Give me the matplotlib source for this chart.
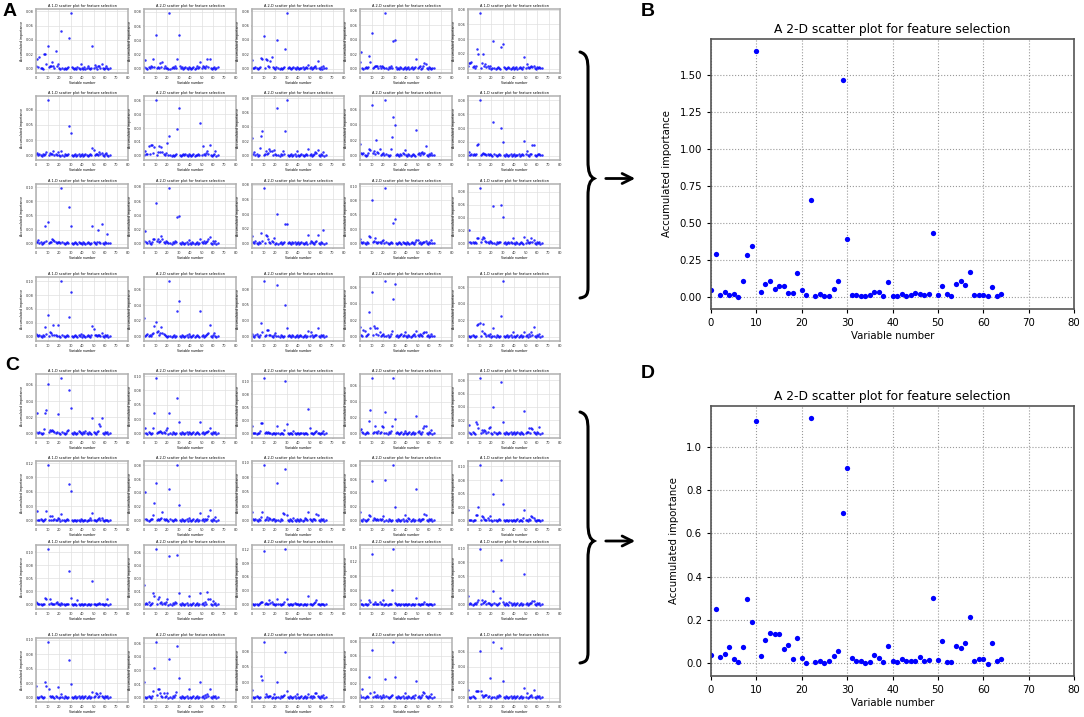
import matplotlib
matplotlib.use("Agg")
import matplotlib.pyplot as plt
import numpy as np
from matplotlib.path import Path
from matplotlib.patches import PathPatch
from matplotlib.ticker import FormatStrFormatter, MaxNLocator

# ---- big panels (B and D): accumulated importance per variable ----
b_values = [0.045, 0.29, 0.015, 0.035, 0.015, 0.02, 0.0, 0.105, 0.28, 0.34,
            1.66, 0.03, 0.088, 0.105, 0.055, 0.073, 0.073, 0.022, 0.026, 0.16,
            0.047, 0.009, 0.657, 0.007, 0.018, 0.002, 0.007, 0.052, 0.108, 1.466,
            0.388, 0.013, 0.013, 0.007, 0.004, 0.013, 0.031, 0.031, 0.004, 0.099,
            0.007, 0.003, 0.016, 0.003, 0.009, 0.022, 0.02, 0.011, 0.02, 0.43,
            0.011, 0.072, 0.018, 0.007, 0.083, 0.105, 0.081, 0.165, 0.009, 0.013,
            0.013, 0.007, 0.068, 0.004, 0.016]
d_values = [0.036, 0.251, 0.028, 0.043, 0.073, 0.02, 0.003, 0.076, 0.298, 0.192,
            1.121, 0.031, 0.105, 0.141, 0.135, 0.133, 0.064, 0.085, 0.019, 0.115,
            0.023, 0.0, 1.133, 0.006, 0.009, 0.0, 0.009, 0.034, 0.057, 0.693,
            0.905, 0.025, 0.011, 0.009, 0.001, 0.006, 0.039, 0.022, 0.005, 0.079,
            0.011, 0.003, 0.017, 0.011, 0.011, 0.009, 0.029, 0.011, 0.014, 0.299,
            0.015, 0.104, 0.006, 0.006, 0.081, 0.07, 0.095, 0.211, 0.011, 0.017,
            0.017, -0.003, 0.091, 0.008, 0.019]

# ---- small panels (A and C), values in thousandths, row by row ----
A00 = [3,13,2,16,1,1,0,20,21,6,31,2,4,3,9,3,1,25,3,7,1,0,52,1,0,1,0,1,2,42,77,2,1,0,1,0,2,1,0,7,1,0,2,0,1,3,1,0,1,32,1,5,2,0,3,4,1,6,1,0,1,4,1,0,1]
A01 = [2,12,1,0,2,1,3,2,13,2,47,1,2,1,8,2,9,1,3,1,1,0,78,0,1,2,1,3,1,13,48,3,1,2,0,1,2,1,0,2,1,0,1,2,0,1,3,1,2,9,1,3,2,1,4,13,2,13,1,0,1,2,0,1,2]
A02 = [12,1,1,2,1,0,1,2,15,14,46,1,13,12,3,2,10,16,2,1,0,2,40,1,0,1,0,1,2,27,77,1,2,1,0,1,2,1,0,2,1,0,1,1,2,0,1,2,1,5,1,2,0,1,2,3,1,11,1,0,2,0,4,1,1]
A03 = [9,23,1,0,1,2,1,2,17,9,49,1,2,3,4,4,1,3,1,4,2,1,76,1,0,2,1,3,1,38,39,2,0,1,0,2,1,0,1,2,0,1,2,0,1,2,0,1,2,13,1,2,3,0,1,4,8,7,1,0,2,1,0,1,1]
A04 = [3,7,7,9,2,3,1,4,27,20,75,1,8,20,4,6,2,3,1,4,0,1,38,1,0,1,2,1,0,30,33,2,1,0,1,2,1,0,1,2,0,1,2,0,1,2,1,0,2,16,1,6,2,1,2,3,2,4,1,0,2,1,2,1,1]
A10 = [2,5,1,3,1,0,2,1,3,6,90,1,5,2,3,8,1,2,1,6,1,0,8,1,0,2,1,1,2,48,37,1,0,1,2,0,1,2,0,1,2,0,1,2,1,0,1,2,1,12,9,1,2,3,1,6,2,4,1,0,2,4,1,0,1]
A11 = [1,5,2,2,10,2,12,11,3,9,60,1,4,10,4,9,4,2,1,3,14,1,21,1,0,1,0,1,2,29,52,1,0,1,2,1,2,1,0,2,1,0,1,2,0,1,1,2,1,35,1,10,2,1,3,5,2,12,1,0,1,2,5,0,1]
A12 = [24,2,5,1,2,0,1,11,28,34,1,2,6,2,3,9,7,6,1,8,2,1,66,1,0,2,1,6,2,34,77,1,0,1,2,0,1,2,0,7,1,0,1,2,1,0,1,2,1,9,1,2,0,1,2,5,3,8,1,0,2,1,5,0,1]
A13 = [15,3,2,4,1,0,1,4,8,7,66,3,6,2,20,5,3,8,1,2,3,1,72,2,1,0,1,9,24,50,40,1,2,1,0,2,1,3,2,7,1,0,2,1,0,1,2,1,0,33,2,4,1,3,5,2,4,12,1,0,2,1,4,1,1]
A14 = [1,5,1,2,1,2,1,2,16,17,80,1,2,4,2,3,1,2,1,3,1,0,48,2,1,0,1,2,1,40,20,1,0,2,1,0,1,2,0,1,2,0,1,1,2,0,1,2,1,21,2,6,1,0,2,3,16,15,1,0,1,3,2,1,1]
A20 = [3,3,6,1,2,0,1,2,31,5,38,1,2,3,8,7,5,2,1,3,2,1,98,2,1,0,1,2,1,65,31,1,0,1,2,1,0,2,1,1,0,2,1,0,1,2,1,0,1,31,2,1,0,3,24,2,1,35,1,0,2,1,17,1,1]
A21 = [4,18,2,1,3,1,0,2,6,7,57,3,6,2,3,11,6,2,1,3,2,1,78,1,0,2,1,3,2,38,39,1,0,2,1,0,1,2,0,5,1,0,2,1,0,1,2,0,1,7,2,1,3,1,2,4,7,9,1,0,3,1,3,0,1]
A22 = [10,2,1,3,1,0,2,1,15,4,75,1,11,10,6,2,1,3,2,8,0,1,40,0,1,2,0,1,2,27,27,1,2,1,0,2,1,2,0,1,2,0,1,2,1,0,1,2,0,12,1,4,2,1,0,2,3,12,1,0,2,1,18,0,1]
A23 = [8,2,1,2,1,0,2,1,14,12,75,2,4,9,2,1,3,2,1,5,6,1,96,2,1,0,1,2,1,35,43,1,0,1,2,1,0,2,1,1,0,2,1,0,1,2,1,0,2,6,6,1,2,0,1,2,3,5,1,0,2,1,6,1,1]
A24 = [2,21,2,1,3,1,2,1,8,8,85,2,7,10,9,4,2,3,1,4,2,1,58,1,0,2,1,3,2,60,41,1,2,0,1,2,1,3,1,8,1,0,2,1,0,1,2,1,0,10,1,6,2,1,3,8,2,5,1,0,2,1,2,0,1]
A30 = [5,3,1,2,1,0,2,1,17,4,40,1,8,7,2,21,3,2,1,21,1,0,100,2,1,0,1,2,1,35,80,1,0,1,2,1,0,2,1,4,0,2,1,0,1,2,1,0,2,19,14,2,3,1,2,3,1,6,1,0,2,1,3,0,1]
A31 = [23,1,2,3,1,2,1,3,4,14,18,6,7,2,5,12,4,3,2,1,0,1,70,1,0,1,2,0,1,32,45,1,0,2,1,0,1,2,0,3,1,0,1,2,0,1,2,1,0,33,1,2,0,1,2,3,4,15,1,0,2,5,1,0,1]
A32 = [4,1,0,2,4,1,0,2,21,7,87,1,2,11,11,3,3,1,0,2,6,1,82,1,0,2,1,0,1,50,13,1,2,1,0,2,1,0,1,2,0,1,2,1,0,1,2,0,1,9,1,7,2,0,1,3,2,14,1,0,2,1,2,0,1]
A33 = [12,2,1,8,7,1,2,3,30,10,54,2,13,10,3,11,2,6,1,2,3,1,67,1,2,0,1,3,7,46,64,1,2,0,1,2,3,1,2,6,1,0,2,1,0,1,2,3,1,7,2,1,3,2,1,4,5,6,1,2,0,1,3,1,1]
A34 = [1,1,0,1,2,1,0,1,14,15,16,1,7,15,4,3,1,2,1,3,0,1,10,1,0,2,1,0,1,25,67,1,0,1,2,0,1,2,0,5,1,0,1,2,0,1,2,0,1,6,1,2,0,3,1,5,2,12,1,0,2,1,3,0,1]

C00 = [2,25,1,2,1,0,1,6,25,29,61,2,4,3,5,3,2,1,2,24,1,0,68,2,1,0,1,3,5,54,31,1,0,2,1,0,1,3,2,1,0,2,1,3,1,0,2,1,0,19,2,1,0,2,3,12,9,19,1,0,2,1,2,0,1]
C01 = [1,10,1,0,2,1,0,1,9,35,96,1,3,2,4,3,1,2,1,6,10,0,35,1,0,2,1,0,1,62,20,1,0,2,1,0,1,2,0,3,1,0,1,2,0,1,2,1,0,20,1,2,0,1,2,3,5,9,1,0,2,1,2,0,1]
C02 = [14,1,2,1,0,2,1,4,20,21,105,1,3,2,3,1,2,0,1,2,0,1,14,1,0,1,2,0,6,100,18,1,0,2,1,0,4,1,0,2,1,0,1,2,1,0,1,2,0,47,10,1,2,0,1,3,4,2,1,0,2,1,4,0,1]
C03 = [4,6,2,1,0,1,2,1,16,30,69,1,2,9,2,1,3,1,2,9,8,1,27,1,0,2,1,3,10,69,18,1,2,1,0,1,2,0,1,3,1,0,1,2,0,1,2,0,1,22,2,3,1,0,2,7,9,9,1,0,2,1,4,0,1]
C04 = [2,13,1,0,2,1,0,18,15,9,83,1,6,2,6,4,1,3,9,10,1,0,40,2,1,0,1,2,1,77,17,1,0,2,1,0,1,2,0,1,2,0,1,2,1,0,2,1,0,34,1,3,2,8,1,8,7,3,1,0,2,1,10,0,1]
C10 = [2,19,2,1,3,1,0,2,3,20,115,1,9,2,9,1,3,2,1,6,4,0,13,2,1,0,1,3,2,76,61,1,0,2,1,0,1,2,0,3,1,0,1,2,0,1,2,5,1,15,2,1,0,2,3,6,2,6,1,0,2,1,2,0,1]
C11 = [3,42,2,1,0,1,2,3,8,26,54,1,2,1,3,4,12,2,1,3,1,0,46,2,1,0,1,2,1,80,23,1,0,2,1,0,1,2,0,4,1,0,1,2,0,1,2,0,1,11,1,3,0,2,1,2,6,16,1,0,2,1,5,0,1]
C12 = [14,2,1,3,1,0,2,1,6,14,95,1,2,7,1,5,2,1,3,2,0,1,65,1,0,2,1,13,11,88,10,1,0,2,1,0,4,1,0,2,1,0,2,1,0,1,4,2,1,15,2,1,0,2,3,1,11,10,1,0,2,1,2,0,1]
C13 = [13,1,0,2,1,0,1,2,8,6,58,1,4,2,1,3,1,2,1,3,6,0,59,1,0,2,1,0,1,80,20,1,0,2,1,0,1,2,0,8,1,0,4,2,0,1,2,0,1,46,1,2,0,1,2,3,9,8,1,0,2,1,2,0,1]
C14 = [19,1,2,1,0,1,2,10,10,25,102,1,9,6,3,2,1,4,2,8,1,0,50,1,2,0,1,3,2,75,31,1,0,2,1,0,1,2,0,1,2,0,1,3,0,1,2,0,4,19,1,2,0,3,2,9,6,4,1,0,2,1,2,0,1]
C20 = [4,3,1,2,1,0,1,2,12,11,105,1,11,3,1,2,1,3,4,2,1,0,3,2,1,0,1,2,1,63,12,1,0,2,1,0,8,2,0,1,2,0,1,2,0,1,2,0,1,45,1,2,0,1,2,3,1,2,1,0,2,1,10,0,1]
C21 = [23,1,2,1,3,0,1,2,13,10,64,1,6,9,2,3,1,2,1,3,6,0,56,1,0,2,1,3,2,57,13,1,0,2,1,0,1,2,0,10,1,0,1,2,0,1,2,0,1,13,1,2,0,3,1,15,6,6,1,0,4,1,2,0,1]
C22 = [2,1,0,2,1,0,1,3,6,5,116,1,4,2,1,10,3,6,1,2,0,1,13,2,1,0,1,2,5,120,13,1,0,2,1,0,1,3,1,2,1,0,1,2,0,1,2,0,1,18,1,2,0,1,3,6,9,2,1,0,2,1,1,0,1]
C23 = [12,2,1,0,2,1,0,3,12,6,142,1,2,7,1,3,2,6,1,2,12,0,3,1,0,2,1,3,40,155,5,1,0,2,1,0,1,2,0,1,2,0,1,3,0,1,2,0,1,18,1,2,0,1,2,3,7,2,1,0,2,1,2,0,1]
C24 = [15,1,2,1,0,1,2,1,5,8,98,1,8,2,4,7,1,3,2,1,0,1,24,2,1,0,1,2,12,79,4,1,0,2,1,0,4,2,0,1,2,0,1,2,0,1,2,0,1,55,1,2,0,1,2,3,6,6,1,0,2,1,2,0,1]
C30 = [20,1,0,1,2,1,0,1,27,20,95,14,3,1,2,1,0,2,1,19,0,1,6,1,0,2,1,0,1,65,23,1,0,1,2,0,1,2,0,1,2,0,1,2,0,1,2,0,1,10,1,2,8,7,1,2,8,2,1,0,2,1,2,0,1]
C31 = [17,1,0,1,2,1,0,2,7,33,61,3,9,10,5,2,1,5,1,2,5,0,43,1,0,2,1,3,6,57,22,1,0,2,1,0,1,2,0,10,1,0,1,2,0,1,2,0,1,17,1,2,0,3,1,4,2,10,1,0,2,1,2,0,1]
C32 = [13,1,0,1,2,1,0,1,36,28,90,1,6,2,1,3,2,0,1,6,0,1,26,1,0,2,1,3,4,75,10,1,0,2,1,0,1,2,0,6,1,0,1,2,0,1,2,0,1,6,1,2,0,3,1,8,7,2,1,0,2,1,5,0,1]
C33 = [4,1,13,1,0,1,2,1,30,6,68,1,8,2,1,3,1,2,0,1,3,1,27,2,1,0,1,2,4,79,30,1,0,2,1,0,1,2,0,6,1,0,2,1,0,1,2,0,3,24,1,2,0,1,3,8,6,2,1,0,2,1,5,0,1]
C34 = [10,1,0,1,2,1,0,8,8,9,61,8,3,1,2,3,4,1,2,25,0,1,72,1,0,2,1,3,2,65,21,1,0,2,1,0,1,2,0,1,2,0,1,2,0,1,2,0,1,13,1,6,0,1,2,3,1,10,1,0,2,1,2,0,1]

panel_a = [[A00, A01, A02, A03, A04], [A10, A11, A12, A13, A14],
           [A20, A21, A22, A23, A24], [A30, A31, A32, A33, A34]]
panel_c = [[C00, C01, C02, C03, C04], [C10, C11, C12, C13, C14],
           [C20, C21, C22, C23, C24], [C30, C31, C32, C33, C34]]
small_titles = ['A 1-D scatter plot for feature selection',
                'A 2-D scatter plot for feature selection',
                'A 2-D scatter plot for feature selection',
                'A 2-D scatter plot for feature selection',
                'A 1-D scatter plot for feature selection']
big_title = 'A 2-D scatter plot for feature selection'

W, H = 1084, 717
fig = plt.figure(figsize=(W / 100, H / 100), dpi=100)


def px_axes(x0, y0, x1, y1):
    # axes from pixel box (top-left origin)
    return fig.add_axes([x0 / W, 1 - y1 / H, (x1 - x0) / W, (y1 - y0) / H])


def small_plot(ax, vals, title):
    vals = np.array(vals) / 1000.0
    ax.scatter(np.arange(len(vals)), vals, s=3.2, color='blue', alpha=0.8,
               linewidths=0)
    ax.set_xlim(0, 80)
    ax.set_xticks(np.arange(0, 81, 10))
    ax.margins(y=0.08)
    ax.yaxis.set_major_locator(MaxNLocator(5))
    ax.yaxis.set_major_formatter(FormatStrFormatter('%.2f'))
    ax.grid(True, color='#e0e0e0', lw=0.5)
    ax.set_axisbelow(True)
    for s in ax.spines.values():
        s.set_color('#b0b0b0')
        s.set_linewidth(1.1)
    ax.tick_params(labelsize=2.5, length=1, width=0.3, pad=1, colors='#333333')
    ax.set_title(title, fontsize=2.5, pad=1.5)
    ax.set_xlabel('Variable number', fontsize=2.3, labelpad=0.8)
    ax.set_ylabel('Accumulated importance', fontsize=2.3, labelpad=1)


col_left = [36, 144, 252, 360, 468]
a_tops = [9, 96, 184, 277]
c_tops = [374, 461, 545, 638]
for tops, grid_vals in [(a_tops, panel_a), (c_tops, panel_c)]:
    for r, top in enumerate(tops):
        for c, left in enumerate(col_left):
            ax = px_axes(left, top, left + 92, top + 64)
            small_plot(ax, grid_vals[r][c], small_titles[c])


def big_plot(ax, vals):
    ax.plot(np.arange(len(vals)), vals, 'o', color='blue', ms=3.8, mew=0)
    ax.set_xlim(0, 80)
    ax.set_xticks(np.arange(0, 81, 10))
    ax.grid(True, ls=':', color='#999999', lw=0.8)
    ax.set_axisbelow(True)
    for s in ax.spines.values():
        s.set_color('#555555')
        s.set_linewidth(1.2)
    ax.tick_params(labelsize=7.3, length=3, width=0.8)
    ax.set_title(big_title, fontsize=8.8, pad=4)
    ax.set_xlabel('Variable number', fontsize=7.3, labelpad=2)
    ax.set_ylabel('Accumulated importance', fontsize=7.3, labelpad=5)


ax_b = px_axes(711, 39, 1074, 309)
big_plot(ax_b, b_values)
ax_b.yaxis.set_major_formatter(FormatStrFormatter('%.2f'))
ax_d = px_axes(711, 406, 1074, 676)
big_plot(ax_d, d_values)

# overlay for braces, arrows and panel letters (pixel coordinates)
ov = fig.add_axes([0, 0, 1, 1])
ov.set_xlim(0, W)
ov.set_ylim(H, 0)
ov.axis('off')


def brace(top, bottom, x=580):
    mid = (top + bottom) / 2 + 4
    verts = [(x, top), (x + 7, top + 2), (x + 8, top + 8), (x + 8, top + 18),
             (x + 8, mid - 18),
             (x + 8, mid - 6), (x + 10, mid - 2), (x + 14, mid),
             (x + 10, mid + 2), (x + 8, mid + 6), (x + 8, mid + 18),
             (x + 8, bottom - 10),
             (x + 8, bottom - 2), (x + 6, bottom), (x, bottom + 1)]
    codes = [Path.MOVETO, Path.CURVE4, Path.CURVE4, Path.CURVE4, Path.LINETO,
             Path.CURVE4, Path.CURVE4, Path.CURVE4,
             Path.CURVE4, Path.CURVE4, Path.CURVE4, Path.LINETO,
             Path.CURVE4, Path.CURVE4, Path.CURVE4]
    ov.add_patch(PathPatch(Path(verts, codes), fill=False, lw=2.2,
                           edgecolor='black', capstyle='round'))
    ov.annotate('', xy=(638, mid), xytext=(603, mid),
                arrowprops=dict(arrowstyle='->', lw=2.0, color='black',
                                mutation_scale=18))


brace(52, 297)
brace(412, 662)

for letter, (lx, ly) in {'A': (10, 12), 'B': (648, 12),
                         'C': (12, 366), 'D': (648, 373)}.items():
    ov.text(lx, ly, letter, fontsize=14, fontweight='bold',
            family='Liberation Sans', ha='center', va='center')

fig.savefig('out.png', dpi=100)
